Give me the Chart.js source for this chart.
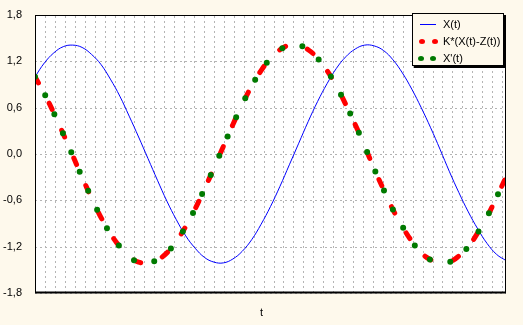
<!DOCTYPE html>
<html>
<head>
<meta charset="utf-8">
<script src="https://cdn.jsdelivr.net/npm/chart.js@4"></script>
<style>
  html, body { margin: 0; padding: 0; background: #FEF9EC; }
  #wrap { position: relative; width: 523px; height: 325px; }
  canvas { display: block; }
  #legend {
    position: absolute; left: 412px; top: 13px; width: 90px; height: 51px;
    border: 1px solid #000; background: #FEF9EC; box-shadow: 2px 2px 0 #000;
    font-family: "Liberation Sans", Arial, sans-serif; font-size: 11px; color: #000;
  }
  .row { position: absolute; left: 0; height: 14px; width: 100%; }
  .row span.txt { position: absolute; left: 30px; top: 0; line-height: 14px; white-space: nowrap; }
  .ln { position: absolute; left: 7px; top: 7px; width: 16px; height: 0; border-top: 1px solid #0000FF; }
  .dot { position: absolute; width: 6px; height: 5px; border-radius: 50%; }
</style>
</head>
<body>
<div id="wrap">
  <canvas id="c" width="523" height="325"></canvas>
  <div id="legend"></div>
</div>
<script>
// ---- data ----
const tValues = [0.0,0.2,0.4,0.6,0.8,1.0,1.2,1.4,1.6,1.8,2.0,2.2,2.4,2.6,2.8,3.0,3.2,3.4,3.6,3.8,
  4.0,4.2,4.4,4.6,4.8,5.0,5.2,5.4,5.6,5.8,6.0,6.2,6.4,6.6,6.8,7.0,7.2,7.4,7.6,7.8,
  8.0,8.2,8.4,8.6,8.8,9.0,9.2,9.4,9.6,9.8,10.0];
const xValues = [1.00,1.18,1.31,1.39,1.41,1.38,1.29,1.16,0.97,0.75,0.49,0.22,-0.06,-0.34,-0.61,-0.85,-1.06,-1.22,-1.34,-1.40,
  -1.41,-1.36,-1.26,-1.11,-0.91,-0.68,-0.42,-0.14,0.14,0.42,0.68,0.91,1.11,1.26,1.36,1.41,1.40,1.34,1.22,1.05,
  0.84,0.60,0.34,0.06,-0.23,-0.50,-0.75,-0.97,-1.16,-1.30,-1.38];
const kValues = [1.00,0.78,0.53,0.26,-0.02,-0.30,-0.57,-0.82,-1.03,-1.20,-1.33,-1.40,-1.41,-1.37,-1.28,-1.13,-0.94,-0.71,-0.45,-0.18,
  0.10,0.38,0.64,0.88,1.08,1.24,1.35,1.41,1.41,1.35,1.24,1.08,0.88,0.64,0.38,0.10,-0.19,-0.46,-0.72,-0.94,
  -1.13,-1.28,-1.37,-1.41,-1.40,-1.32,-1.20,-1.02,-0.81,-0.56,-0.30];
const dxValues = [1.00,0.78,0.53,0.26,-0.02,-0.30,-0.57,-0.82,-1.03,-1.20,-1.33,-1.40,-1.41,-1.37,-1.28,-1.13,-0.94,-0.71,-0.45,-0.18,
  0.10,0.38,0.64,0.88,1.08,1.24,1.35,1.41,1.41,1.35,1.24,1.08,0.88,0.64,0.38,0.10,-0.19,-0.46,-0.72,-0.94,
  -1.13,-1.28,-1.37,-1.41,-1.40,-1.32,-1.20,-1.02,-0.81,-0.56,-0.30];
const seriesNames = ["X(t)", "K*(X(t)-Z(t))", "X'(t)"];
const yTickValues = [-1.8,-1.2,-0.6,0.0,0.6,1.2,1.8];
const yTickLabels = ["-1,8","-1,2","-0,6","0,0","0,6","1,2","1,8"];
const xTitle = "t";
const xGridStep = 0.211;
const xGridCount = 47;

const FONT = "'Liberation Sans', Arial, sans-serif";

const pts = (ys) => tValues.map((t, i) => ({x: t, y: ys[i]}));

const bgPlugin = {
  id: 'plotbg',
  beforeDraw(chart) {
    const {ctx, chartArea: a} = chart;
    ctx.save();
    ctx.fillStyle = '#FEF9EC';
    ctx.fillRect(0, 0, chart.width, chart.height);
    ctx.fillStyle = '#FFFFFF';
    ctx.fillRect(a.left, a.top, a.right - a.left, a.bottom - a.top);
    ctx.restore();
  },
  beforeDatasetsDraw(chart) {
    // dotted grid drawn at the scales' tick positions
    const {ctx, chartArea: a, scales} = chart;
    ctx.save();
    ctx.strokeStyle = '#B4B4B4';
    ctx.lineWidth = 1;
    ctx.setLineDash([2, 3]);
    scales.x.ticks.forEach(t => {
      const x = Math.round(scales.x.getPixelForValue(t.value)) + 0.5;
      ctx.beginPath(); ctx.moveTo(x, a.bottom); ctx.lineTo(x, a.top); ctx.stroke();
    });
    scales.y.ticks.forEach(t => {
      const y = Math.round(scales.y.getPixelForValue(t.value)) + 0.5;
      ctx.beginPath(); ctx.moveTo(a.left, y); ctx.lineTo(a.right, y); ctx.stroke();
    });
    ctx.restore();
  },
  afterDraw(chart) {
    const {ctx, chartArea: a} = chart;
    ctx.save();
    ctx.strokeStyle = '#000';
    ctx.lineWidth = 1;
    ctx.strokeRect(a.left + 0.5, a.top + 0.5, a.right - a.left - 1, a.bottom - a.top - 1);
    ctx.lineWidth = 2;
    ctx.beginPath(); ctx.moveTo(a.left, a.bottom - 0.5); ctx.lineTo(a.right, a.bottom - 0.5); ctx.stroke();
    ctx.fillStyle = '#000';
    ctx.font = "11px " + FONT;
    ctx.textAlign = 'center';
    ctx.textBaseline = 'middle';
    ctx.fillText(xTitle, chart.width / 2, 313);
    ctx.restore();
  }
};

new Chart(document.getElementById('c'), {
  type: 'line',
  data: {
    datasets: [
      { label: seriesNames[0], data: pts(xValues), borderColor: '#0000FF', borderWidth: 1,
        pointRadius: 0, tension: 0.4, order: 3 },
      { label: seriesNames[1], data: pts(kValues), borderColor: '#FF0000', borderWidth: 5,
        borderDash: [7, 23], borderCapStyle: 'round', pointRadius: 0, tension: 0.4, order: 2 },
      { label: seriesNames[2], data: pts(dxValues), borderColor: '#007A00', borderWidth: 6,
        borderDash: [0, 21], borderDashOffset: 0, borderCapStyle: 'round', pointRadius: 0, tension: 0.4, order: 1 }
    ]
  },
  options: {
    responsive: false,
    animation: false,
    layout: { padding: { left: 0, right: 17, top: 15, bottom: 0 } },
    plugins: { legend: { display: false }, tooltip: { enabled: false } },
    scales: {
      x: {
        type: 'linear', min: 0, max: 10,
        afterBuildTicks(s) {
          const arr = [];
          for (let k = 1; k <= xGridCount; k++) arr.push({value: k * xGridStep});
          s.ticks = arr;
        },
        afterFit(s) { s.height = 32; },
        ticks: { display: false },
        grid: { display: false },
        border: { display: false }
      },
      y: {
        min: -1.8, max: 1.8,
        afterBuildTicks(s) { s.ticks = yTickValues.map(v => ({value: v})); },
        afterFit(s) { s.width = 35; },
        ticks: {
          color: '#000', font: { family: FONT, size: 11 }, padding: 5,
          callback: (v, i) => yTickLabels[i]
        },
        grid: { display: false },
        border: { display: false }
      }
    }
  },
  plugins: [bgPlugin]
});

// legend
const lg = document.getElementById('legend');
const rows = [
  {top: 3, html: '<div class="ln"></div>'},
  {top: 20, html: '<div class="dot" style="left:6px;top:5px;background:#FF0000"></div><div class="dot" style="left:19px;top:5px;background:#FF0000"></div>'},
  {top: 37, html: '<div class="dot" style="left:5px;top:5px;background:#007A00"></div><div class="dot" style="left:17px;top:5px;background:#007A00"></div>'}
];
rows.forEach((r, i) => {
  const d = document.createElement('div');
  d.className = 'row';
  d.style.top = r.top + 'px';
  d.innerHTML = r.html + '<span class="txt"></span>';
  d.querySelector('.txt').textContent = seriesNames[i];
  lg.appendChild(d);
});
</script>
</body>
</html>
